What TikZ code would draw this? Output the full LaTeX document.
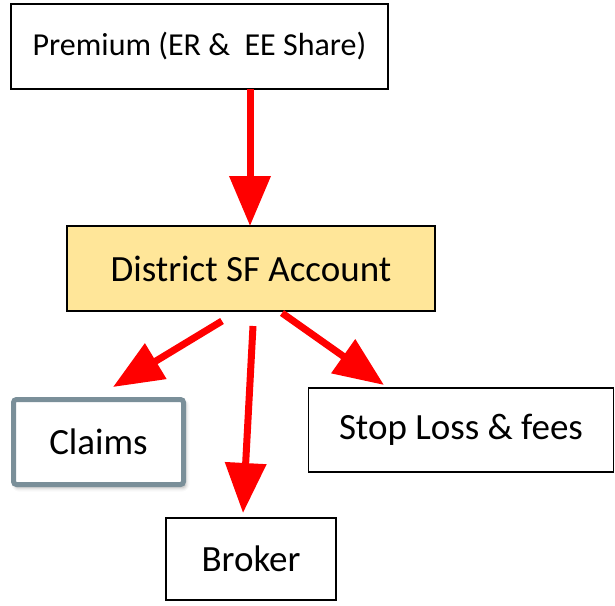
\documentclass[tikz,border=0pt]{standalone}
\usepackage{fontspec}
\setmainfont{Carlito}
\usetikzlibrary{arrows.meta,shadows,shadows.blur}
\definecolor{boxyellow}{HTML}{FFE699}
\definecolor{claimgray}{HTML}{7A8F99}
\definecolor{arrowred}{HTML}{FF0000}
\tikzset{
  plainbox/.style={draw=black, line width=1.4pt, fill=white, rectangle, inner sep=0pt, font=\fontsize{37}{42}\selectfont},
  flow/.style={draw=arrowred, line width=7pt, -{Triangle[length=50pt,width=40pt]}},
}
\begin{document}
\begin{tikzpicture}[x=1pt,y=1pt]
\useasboundingbox (0,0) rectangle (615,-605);
\node[plainbox, font=\fontsize{32}{38}\selectfont, minimum width=377pt, minimum height=85pt] (prem) at (199.5,-46.5) {Premium (ER \&\ \ EE Share)};
\node[plainbox, fill=boxyellow, minimum width=368pt, minimum height=85pt] (dist) at (251,-268.5) {District SF Account};
\node[plainbox, draw=claimgray, line width=5pt, rounded corners=3pt, minimum width=170pt, minimum height=85pt,
  blur shadow={shadow xshift=2pt, shadow yshift=-3pt, shadow opacity=35, shadow blur radius=4pt}] (claims) at (98.5,-442) {Claims};
\node[plainbox, minimum width=305pt, minimum height=84pt] (stop) at (461,-430) {Stop Loss \& fees};
\node[plainbox, minimum width=170pt, minimum height=82pt] (broker) at (251,-559) {Broker};
\coordinate (s1) at (250,-89);
\coordinate (e1) at (250,-226);
\coordinate (s2) at (222,-321);
\coordinate (e2) at (113,-387);
\coordinate (s3) at (253,-326);
\coordinate (e3) at (243,-513);
\coordinate (s4) at (282,-313);
\coordinate (e4) at (384,-385);
\draw[flow] (s1) -- (e1);
\draw[flow] (s2) -- (e2);
\draw[flow] (s3) -- (e3);
\draw[flow] (s4) -- (e4);
\end{tikzpicture}
\end{document}
